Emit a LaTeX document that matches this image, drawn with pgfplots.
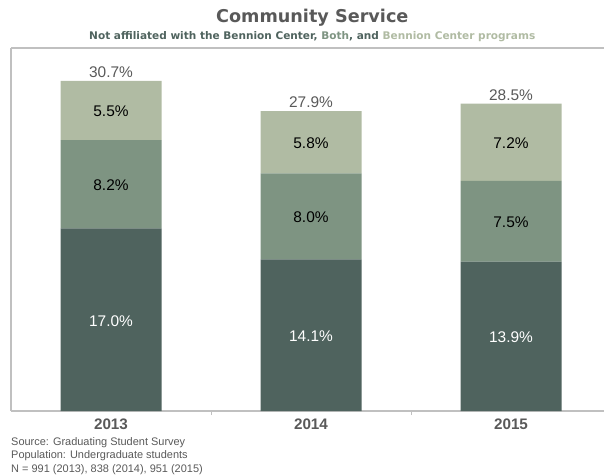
\documentclass[border=0pt]{standalone}
\usepackage{fontspec}
\setmainfont{Liberation Sans}
\newfontfamily\titlefont{DejaVu Sans}
\usepackage{pgfplots}
\pgfplotsset{compat=1.18}
\definecolor{cdark}{HTML}{4F635E}
\definecolor{cmid}{HTML}{7E9482}
\definecolor{clight}{HTML}{B0BBA3}
\definecolor{txtgray}{HTML}{595959}
\definecolor{framegray}{HTML}{C0C0C0}
\begin{document}
\begin{tikzpicture}
\begin{axis}[
  scale only axis,
  width=593bp, height=363bp,
  xmin=-0.5, xmax=2.465,
  ymin=0, ymax=33.77,
  ybar stacked,
  bar width=101bp,
  axis x line*=bottom,
  axis y line*=left,
  axis line style={framegray, line width=1.5bp, -},
  ytick=\empty,
  xtick={0,1,2},
  xticklabels={2013,2014,2015},
  minor xtick={0.5,1.5},
  major tick length=0pt,
  minor tick length=4bp,
  tick align=outside,
  tick style={draw=framegray, line width=0.8bp},
  xticklabel style={font=\fontsize{15.3}{18}\selectfont\bfseries, text=txtgray, yshift=-4bp},
  clip=false,
]
\addplot[fill=cdark, draw=none] coordinates {(0,17.0) (1,14.1) (2,13.9)};
\addplot[fill=cmid, draw=none] coordinates {(0,8.2) (1,8.0) (2,7.5)};
\addplot[fill=clight, draw=none] coordinates {(0,5.5) (1,5.8) (2,7.2)};
\draw[framegray, line width=1.5bp] (rel axis cs:0,1) -- (rel axis cs:1,1);
\coordinate (a1) at (axis cs:0,8.4);
\coordinate (a2) at (axis cs:0,21.05);
\coordinate (a3) at (axis cs:0,27.9);
\coordinate (at) at (axis cs:0,30.7);
\coordinate (b1) at (axis cs:1,7.0);
\coordinate (b2) at (axis cs:1,18.05);
\coordinate (b3) at (axis cs:1,24.95);
\coordinate (bt) at (axis cs:1,27.9);
\coordinate (c1) at (axis cs:2,6.9);
\coordinate (c2) at (axis cs:2,17.6);
\coordinate (c3) at (axis cs:2,24.95);
\coordinate (ct) at (axis cs:2,28.6);
\coordinate (ttl) at (rel axis cs:0.508,1);
\coordinate (src) at (rel axis cs:0,0);
\end{axis}
\begin{scope}[every node/.style={font=\fontsize{15.5}{18}\selectfont}]
\node[text=white] at (a1) {17.0\%};
\node[text=black] at (a2) {8.2\%};
\node[text=black] at (a3) {5.5\%};
\node[text=txtgray, anchor=south, inner sep=3bp] at (at) {30.7\%};
\node[text=white] at (b1) {14.1\%};
\node[text=black] at (b2) {8.0\%};
\node[text=black] at (b3) {5.8\%};
\node[text=txtgray, anchor=south, inner sep=3bp] at (bt) {27.9\%};
\node[text=white] at (c1) {13.9\%};
\node[text=black] at (c2) {7.5\%};
\node[text=black] at (c3) {7.2\%};
\node[text=txtgray, anchor=south, inner sep=3bp] at (ct) {28.5\%};
\end{scope}
\node[font=\titlefont\fontsize{17.7}{20}\selectfont\bfseries, text=txtgray] at ([yshift=30bp]ttl) {Community Service};
\node[font=\titlefont\fontsize{10.57}{12}\selectfont\bfseries, text=cdark] at ([yshift=11bp]ttl) {Not affiliated with the Bennion Center, \textcolor{cmid}{Both}, and \textcolor{clight}{Bennion Center programs}};
\node[anchor=north west, inner sep=0pt, align=left, text=txtgray, font=\fontsize{11}{13.5}\selectfont] at ([yshift=-26bp]src) {Source: Graduating Student Survey\\Population: Undergraduate students\\N = 991 (2013), 838 (2014), 951 (2015)};
\pgfresetboundingbox
\path (-11bp,-65bp) rectangle (594bp,411bp);
\end{tikzpicture}
\end{document}
